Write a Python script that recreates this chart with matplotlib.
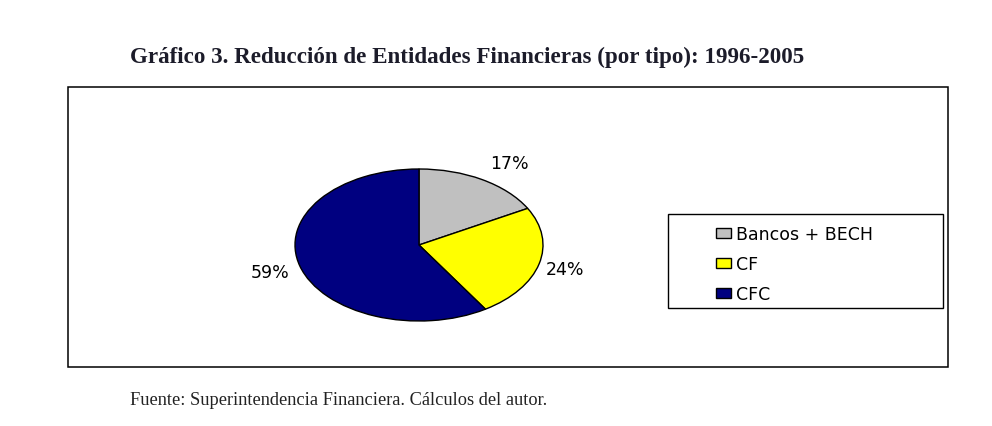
import matplotlib.pyplot as plt
from matplotlib.patches import Rectangle

categorias = ['Bancos + BECH', 'CF', 'CFC']
porcentajes = [17, 24, 59]
colores = ['#C0C0C0', '#FFFF00', '#000080']

titulo = 'Gráfico 3. Reducción de Entidades Financieras (por tipo): 1996-2005'
fuente = 'Fuente: Superintendencia Financiera. Cálculos del autor.'

W, H = 992, 427


def fx(px):
    return px / W


def fy(py):
    return 1 - py / H


fig = plt.figure(figsize=(9.92, 4.27), dpi=100)
fig.patch.set_facecolor('white')

# recuadro exterior
fig.add_artist(Rectangle((fx(68), fy(368)), fx(948) - fx(68), fy(88) - fy(368),
                         transform=fig.transFigure, fill=False, edgecolor='black', linewidth=1.1))

# pie ovalado: radio 124 px horizontal, 76 px vertical
cx, cy, rx, ry = 419, 246, 124, 76
ax = fig.add_axes([fx(cx - 1.5 * rx), fy(cy + 1.5 * ry), 3 * rx / W, 3 * ry / H])
wedges, textos, autotextos = ax.pie(
    porcentajes, colors=colores, startangle=90, counterclock=False,
    autopct='%1.0f%%', pctdistance=1.25,
    wedgeprops=dict(edgecolor='black', linewidth=1.0),
    textprops=dict(fontsize=12.5, family='DejaVu Sans', color='black'))
# pequeño ajuste de las etiquetas
for t, dx in zip(autotextos, [0.09, -0.03, 0.0]):
    x, y = t.get_position()
    t.set_position((x + dx, y))
ax.set_aspect('auto')
ax.set_xlim(-1.5, 1.5)
ax.set_ylim(-1.5, 1.5)
ax.axis('off')

# caja de la leyenda
fig.add_artist(Rectangle((fx(668), fy(309)), fx(943) - fx(668), fy(215) - fy(309),
                         transform=fig.transFigure, fill=False, edgecolor='black', linewidth=1.0))
fig.legend(wedges, categorias, loc='upper left', bbox_to_anchor=(fx(716), fy(226)),
           frameon=False, borderpad=0, borderaxespad=0,
           prop=dict(family='DejaVu Sans', size=12.5),
           handlelength=0.85, handleheight=0.5, handletextpad=0.3, labelspacing=0.7)

fig.text(fx(467), fy(57), titulo, ha='center', va='center', fontsize=16.6,
         fontweight='bold', family='Liberation Serif', color='#1c1c2a')
fig.text(fx(130), fy(401), fuente, ha='left', va='center', fontsize=13.2,
         family='Liberation Serif', color='#222222')

plt.savefig('out.png', dpi=100)
